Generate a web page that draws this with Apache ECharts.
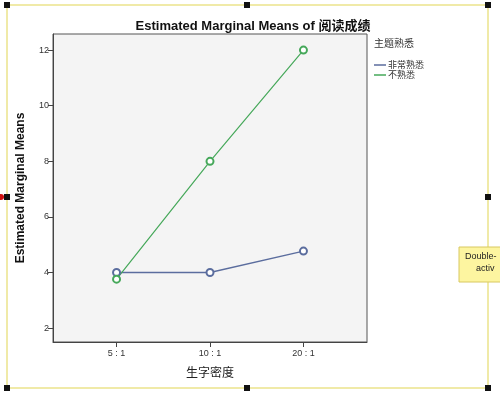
<!DOCTYPE html>
<html><head><meta charset="utf-8">
<script src="https://cdn.jsdelivr.net/npm/echarts@6/dist/echarts.min.js"></script>
<style>html,body{margin:0;padding:0;background:#fff}#c{width:500px;height:399px}</style>
</head><body><div id="c"></div>
<script>
var categories = ['5 : 1', '10 : 1', '20 : 1'];
var seriesNames = ['非常熟悉', '不熟悉'];
var veryFamiliar = [4.0, 4.0, 4.77];
var unfamiliar = [3.76, 8.0, 12.0];
var yTicks = [2, 4, 6, 8, 10, 12];
var xTicks = [0, 1, 2];

function pts(arr){ return arr.map(function(v,i){ return [i, v]; }); }

var chart = echarts.init(document.getElementById('c'));
var yellow = '#f0eaa8';
function handle(x,y){ return {type:'rect', shape:{x:x-3,y:y-3,width:6,height:6}, style:{fill:'#111'}, z:100}; }
chart.setOption({
  animation:false,
  title:{text:'Estimated Marginal Means of 阅读成绩', left:248, textAlign:'center', top:15,
    textStyle:{fontFamily:'Liberation Sans, Arial, Noto Sans CJK SC', fontSize:13, fontWeight:'bold', color:'#111'}},
  grid:{left:53, right:133, top:34, bottom:57, show:true, backgroundColor:'#f4f4f4', borderColor:'#555', borderWidth:1},
  xAxis:{type:'value', min:-0.68, max:2.68,
    name:'生字密度', nameLocation:'middle', nameGap:24,
    nameTextStyle:{fontFamily:'Noto Sans CJK SC', fontSize:12, color:'#222'},
    axisLine:{show:true, onZero:false, lineStyle:{color:'#444'}},
    axisTick:{show:true, length:5, lineStyle:{color:'#444'}, customValues:xTicks},
    splitLine:{show:false},
    axisLabel:{fontSize:9, color:'#333', fontFamily:'Liberation Sans, Arial', margin:7, customValues:xTicks,
      formatter:function(v){ return categories[Math.round(v)] || ''; }}},
  yAxis:{type:'value', min:1.5, max:12.58,
    name:'Estimated Marginal Means', nameLocation:'middle', nameGap:26,
    nameTextStyle:{fontFamily:'Liberation Sans, Arial', fontSize:12, fontWeight:'bold', color:'#111'},
    axisLine:{show:true, onZero:false, lineStyle:{color:'#444'}},
    axisTick:{show:true, length:5, lineStyle:{color:'#444'}, customValues:yTicks},
    splitLine:{show:false},
    axisLabel:{fontSize:9, color:'#333', fontFamily:'Liberation Sans, Arial', margin:4, customValues:yTicks}},
  legend:{orient:'vertical', left:369, top:55, itemGap:0, itemWidth:12, itemHeight:1.5, icon:'rect',
    itemStyle:{borderWidth:0},
    textStyle:{fontSize:9, lineHeight:10, color:'#333', fontFamily:'Noto Sans CJK SC', padding:[0,0,0,-3]},
    data:seriesNames},
  series:[
    {name:seriesNames[0], type:'line', data:pts(veryFamiliar), symbol:'emptyCircle', symbolSize:7,
      color:'#5b6d9e', lineStyle:{width:1.4, color:'#5b6d9e'}, itemStyle:{color:'#5b6d9e', borderWidth:0.9, borderColor:'#6a76a0'}},
    {name:seriesNames[1], type:'line', data:pts(unfamiliar), symbol:'emptyCircle', symbolSize:7,
      color:'#46a85a', lineStyle:{width:1.2, color:'#46a85a'}, itemStyle:{color:'#46a85a', borderWidth:0.9, borderColor:'#5aa868'}}
  ],
  graphic:[
    {type:'text', left:374, top:38, style:{text:'主题熟悉', fontSize:10, fill:'#333', fontFamily:'Noto Sans CJK SC'}},
    {type:'line', shape:{x1:7,y1:5,x2:488,y2:5}, style:{stroke:yellow, lineWidth:2}, z:90},
    {type:'line', shape:{x1:7,y1:388,x2:488,y2:388}, style:{stroke:yellow, lineWidth:2}, z:90},
    {type:'line', shape:{x1:7,y1:5,x2:7,y2:388}, style:{stroke:yellow, lineWidth:2}, z:90},
    {type:'line', shape:{x1:488,y1:5,x2:488,y2:388}, style:{stroke:yellow, lineWidth:2}, z:90},
    handle(7,5), handle(247,5), handle(488,5), handle(7,197), handle(488,197), handle(7,388), handle(247,388), handle(488,388),
    {type:'circle', shape:{cx:1,cy:197,r:3}, style:{fill:'#d01010'}, z:101},
    {type:'rect', shape:{x:459,y:247,width:45,height:35}, style:{fill:'#fdf5a0', stroke:'#d8c860', lineWidth:1}, z:95},
    {type:'text', left:465, top:252, style:{text:'Double-', fontSize:9, fill:'#222', fontFamily:'Liberation Sans, Arial'}, z:96},
    {type:'text', left:476, top:264, style:{text:'activ', fontSize:9, fill:'#222', fontFamily:'Liberation Sans, Arial'}, z:96}
  ]
});
</script></body></html>
